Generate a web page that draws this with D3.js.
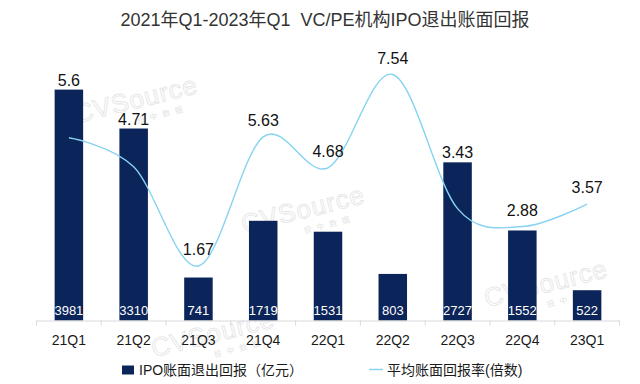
<!DOCTYPE html>
<html>
<head>
<meta charset="utf-8">
<script src="https://cdn.jsdelivr.net/npm/d3@7"></script>
<style>
  body{margin:0;background:#fff;}
  text{font-family:"Liberation Sans","Noto Sans CJK SC",sans-serif;}
</style>
</head>
<body>
<div id="chartContainer"></div>
<script>
// data
var quarters=["21Q1","21Q2","21Q3","21Q4","22Q1","22Q2","22Q3","22Q4","23Q1"];
var ipoReturn=[3981,3310,741,1719,1531,803,2727,1552,522];      // 亿元
var avgMultiple=[5.6,4.71,1.67,5.63,4.68,7.54,3.43,2.88,3.57];  // 倍数
var titleText="2021年Q1-2023年Q1  VC/PE机构IPO退出账面回报";
var legendBar="IPO账面退出回报（亿元）";
var legendLine="平均账面回报率(倍数)";

var barColor="#0b2459";
var lineColor="#86d3f2";

var W=640,H=384;
var svg=d3.select("#chartContainer").append("svg").attr("width",W).attr("height",H);
svg.append("rect").attr("width",W).attr("height",H).style("fill","#fff");

//---------------------------------------------------------------------------------------------------------//
//                                               WATERMARK                                                 //
//---------------------------------------------------------------------------------------------------------//
var wm=svg.append("g");
[[305,218],[138,108],[215,342],[548,292]].forEach(function(p){
    var g=wm.append("g").attr("transform","translate("+p[0]+","+p[1]+") rotate(-14)");
    g.append("text").attr("text-anchor","middle").style("font-size","26px").style("letter-spacing","1px")
        .style("fill","none").style("stroke","#e4e4e4").style("stroke-width",0.8).text("CVSource");
    g.append("text").attr("x",22).attr("y",15).attr("text-anchor","middle").style("font-size","8px")
        .style("fill","#e4e4e4").style("letter-spacing","5px").text("投中数据");
});

//---------------------------------------------------------------------------------------------------------//
//                                                 SCALES                                                  //
//---------------------------------------------------------------------------------------------------------//
var x=d3.scaleBand().domain(quarters).range([36.5,619.5]).paddingInner(0.56).paddingOuter(0.28);
var yBar=d3.scaleLinear().domain([0,4500]).range([320.5,59.5]);
var yLine=d3.scaleLinear().domain([0,8]).range([320.5,59.5]);

//TITLE
svg.append("text").attr("x",325).attr("y",26).attr("text-anchor","middle").style("white-space","pre")
    .style("font-size","18px").style("fill","#333").text(titleText);

//BARS
svg.append("g").selectAll("rect").data(ipoReturn).join("rect")
    .attr("x",function(d,i){return x(quarters[i]);})
    .attr("y",function(d){return yBar(d);})
    .attr("width",x.bandwidth())
    .attr("height",function(d){return yBar(0)-yBar(d);})
    .style("fill",barColor);

svg.append("g").selectAll("text").data(ipoReturn).join("text")
    .attr("x",function(d,i){return x(quarters[i])+x.bandwidth()/2;})
    .attr("y",315).attr("text-anchor","middle")
    .style("font-size","13px").style("fill","#fff").text(function(d){return d;});

//AXIS
var axis=svg.append("g").attr("transform","translate(0,320.5)")
    .call(d3.axisBottom(x).tickSize(0).tickPadding(15));
axis.select(".domain").style("stroke","#d9d9d9");
axis.selectAll("text").style("font-size","14px").style("fill","#1a1a1a")
    .style("font-family","\"Liberation Sans\",sans-serif");
var edges=d3.range(quarters.length+1).map(function(i){return x.range()[0]+i*x.step();});
axis.selectAll(".edge").data(edges).join("line").attr("class","edge")
    .attr("x1",function(d){return d;}).attr("x2",function(d){return d;})
    .attr("y1",0).attr("y2",5).style("stroke","#d9d9d9");

//LINE
var line=d3.line()
    .x(function(d,i){return x(quarters[i])+x.bandwidth()/2;})
    .y(function(d){return yLine(d);})
    .curve(d3.curveCatmullRom.alpha(0));
svg.append("path").datum(avgMultiple).attr("d",line)
    .style("fill","none").style("stroke",lineColor).style("stroke-width",1.4);

//LINE LABELS
svg.append("g").selectAll("text").data(avgMultiple).join("text")
    .attr("x",function(d,i){return x(quarters[i])+x.bandwidth()/2;})
    .attr("y",function(d,i){
        var bt=yBar(ipoReturn[i]),lt=yLine(d);
        return bt<lt ? bt-4 : lt-11;
    })
    .attr("text-anchor","middle").style("font-size","16px").style("fill","#111")
    .text(function(d){return d;});

//LEGEND
var lg=svg.append("g");
lg.append("rect").attr("x",122).attr("y",365.5).attr("width",12).attr("height",9).style("fill",barColor);
lg.append("text").attr("x",139).attr("y",375).style("font-size","14px").style("fill","#1a1a1a").text(legendBar);
lg.append("line").attr("x1",369).attr("x2",383).attr("y1",369.5).attr("y2",369.5)
    .style("stroke",lineColor).style("stroke-width",1.4);
lg.append("text").attr("x",387).attr("y",375).style("font-size","14px").style("fill","#1a1a1a").text(legendLine);
</script>
</body>
</html>
